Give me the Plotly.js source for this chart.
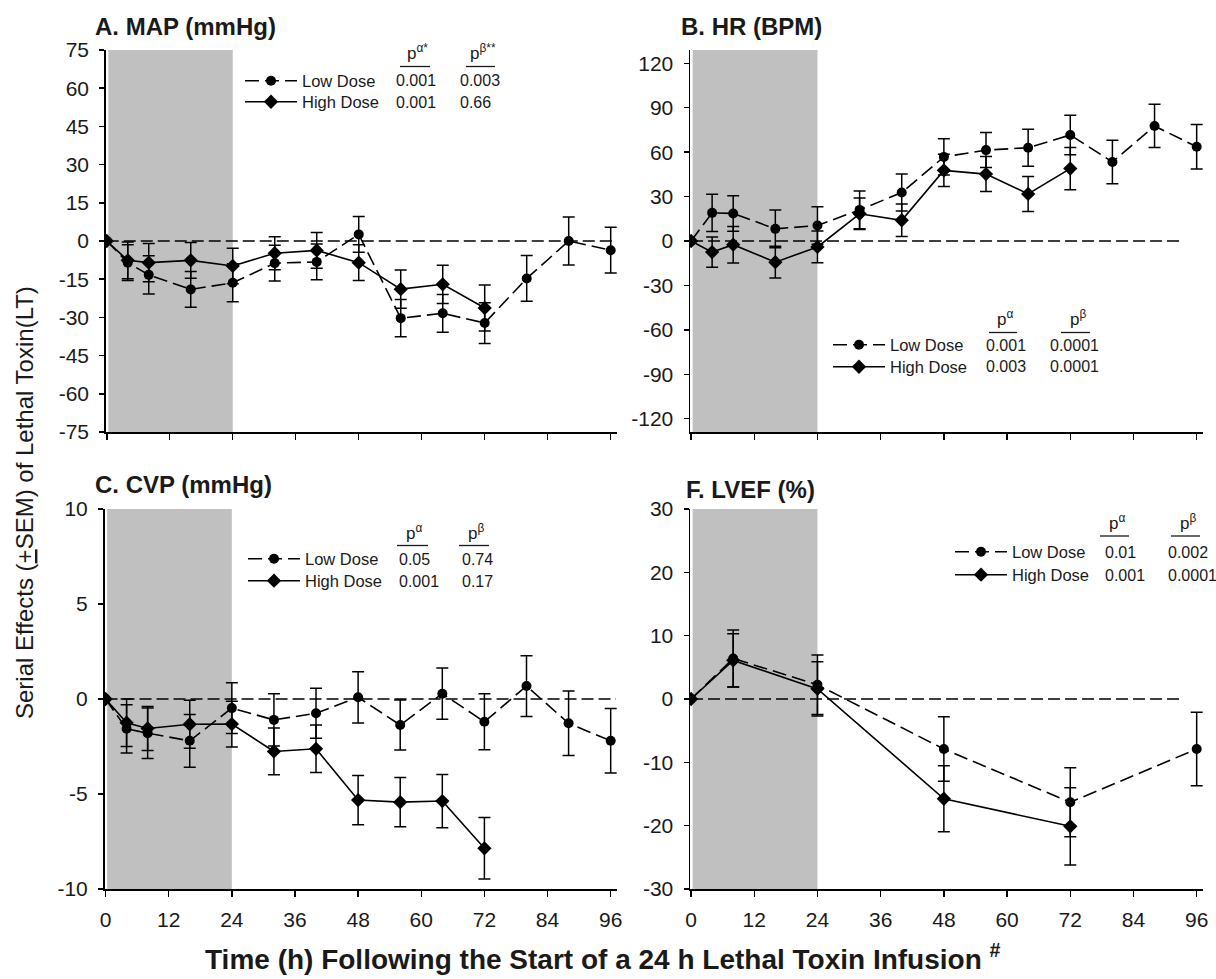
<!DOCTYPE html>
<html>
<head>
<meta charset="utf-8">
<script src="https://cdn.plot.ly/plotly-3.0.1.min.js"></script>
<style>
  html, body { margin: 0; padding: 0; background: #fff; }
  #chart { width: 1216px; height: 979px; }
</style>
</head>
<body>
<div id="chart"></div>
<script>
// ---------------- data ----------------
const timeLow  = [0, 4, 8, 16, 24, 32, 40, 48, 56, 64, 72, 80, 88, 96];
const timeHigh = [0, 4, 8, 16, 24, 32, 40, 48, 56, 64, 72];
const lvefTimeLow  = [0, 8, 24, 48, 72, 96];
const lvefTimeHigh = [0, 8, 24, 48, 72];
const xTicks = [0, 12, 24, 36, 48, 60, 72, 84, 96];

const mapLow     = [0, -8.5, -13.3, -19, -16.4, -8.7, -8.2, 2.6, -30.3, -28.4, -32.2, -14.7, 0, -3.6];
const mapLowErr  = [0, 7, 7.5, 7, 7.5, 7, 7, 7, 7.3, 7.4, 8, 9, 9.4, 9];
const mapHigh    = [0, -7.6, -8.5, -7.6, -9.8, -4.8, -3.7, -8.5, -18.9, -17, -26.3];
const mapHighErr = [0, 7.2, 7.5, 7, 7, 6.5, 7, 7, 7.5, 7.5, 9];

const hrLow      = [0, 19, 18.6, 8.2, 10.5, 21, 32.7, 56.8, 61.4, 63, 71.6, 53.4, 77.7, 63.6];
const hrLowErr   = [0, 12.5, 12, 12.7, 12.7, 12.7, 12.5, 12.3, 11.8, 12.5, 13.4, 14.7, 14.6, 15];
const hrHigh     = [0, -7.5, -2.5, -14.3, -4, 18.4, 14, 47.7, 45.2, 31.8, 48.9];
const hrHighErr  = [0, 10.2, 12.3, 10.7, 10.7, 10.7, 11, 10.9, 11.8, 11.8, 14.3];

const cvpLow     = [0, -1.57, -1.8, -2.2, -0.48, -1.1, -0.75, 0.09, -1.37, 0.28, -1.2, 0.68, -1.28, -2.2];
const cvpLowErr  = [0, 1.27, 1.33, 1.39, 1.33, 1.37, 1.32, 1.35, 1.32, 1.35, 1.47, 1.6, 1.7, 1.7];
const cvpHigh    = [0, -1.25, -1.55, -1.33, -1.32, -2.76, -2.62, -5.32, -5.43, -5.37, -7.86];
const cvpHighErr = [0, 1.25, 1.16, 1.26, 1.2, 1.23, 1.25, 1.3, 1.3, 1.4, 1.62];

const lvefLow     = [0, 6.4, 2.24, -7.9, -16.3, -7.9];
const lvefLowErr  = [0, 4.5, 4.7, 5.1, 5.45, 5.8];
const lvefHigh    = [0, 6.1, 1.6, -15.75, -20.1];
const lvefHighErr = [0, 4.2, 4.3, 5.2, 6.1];

const seriesNames = ['Low Dose', 'High Dose'];
const panelTitles = ['A. MAP (mmHg)', 'B. HR (BPM)', 'C. CVP (mmHg)', 'F. LVEF (%)'];
const pHeaders = [['p<sup>α*</sup>', 'p<sup>β**</sup>'], ['p<sup>α</sup>', 'p<sup>β</sup>'],
                  ['p<sup>α</sup>', 'p<sup>β</sup>'], ['p<sup>α</sup>', 'p<sup>β</sup>']];
const pValues = [
  [['0.001', '0.003'], ['0.001', '0.66']],
  [['0.001', '0.0001'], ['0.003', '0.0001']],
  [['0.05', '0.74'], ['0.001', '0.17']],
  [['0.01', '0.002'], ['0.001', '0.0001']]
];
const yTickSets = [
  [-75, -60, -45, -30, -15, 0, 15, 30, 45, 60, 75],
  [-120, -90, -60, -30, 0, 30, 60, 90, 120],
  [-10, -5, 0, 5, 10],
  [-30, -20, -10, 0, 10, 20, 30]
];
const xTitle = 'Time (h) Following the Start of a 24 h Lethal Toxin Infusion <sup>#</sup>';
const yTitle = 'Serial Effects (<u>+</u>SEM) of Lethal Toxin(LT)';

// ---------------- layout helpers ----------------
const W = 1216, H = 979;
const px = x => x / W;
const py = y => 1 - y / H;
const FONT = 'Liberation Sans, Arial, Helvetica, sans-serif';
const INK = '#1a1a1a';
const TICK_SIZE = 21;

// panel geometry in pixels: [left, right, top, bottom]
const geo = [
  [105.7, 617, 50, 432],
  [690, 1203, 50, 432],
  [104.5, 617, 509, 889],
  [690, 1203, 509, 889]
];
const yRanges = [[-75, 75], [-129, 129], [-10, 10], [-30, 30]];

const dataSets = [
  {tl: timeLow, yl: mapLow, el: mapLowErr, th: timeHigh, yh: mapHigh, eh: mapHighErr},
  {tl: timeLow, yl: hrLow, el: hrLowErr, th: timeHigh, yh: hrHigh, eh: hrHighErr},
  {tl: timeLow, yl: cvpLow, el: cvpLowErr, th: timeHigh, yh: cvpHigh, eh: cvpHighErr},
  {tl: lvefTimeLow, yl: lvefLow, el: lvefLowErr, th: lvefTimeHigh, yh: lvefHigh, eh: lvefHighErr}
];

// legend / p-value block positions (px)
const legendPos = [
  {lineX: 245, row1: 81, row2: 102, c1: 394, c2: 458, u1: [400, 430], u2: [466, 495], uy: 66.5},
  {lineX: 833, row1: 345, row2: 367, c1: 984, c2: 1048, u1: [989, 1017], u2: [1061, 1090], uy: 332.5},
  {lineX: 248, row1: 559, row2: 581, c1: 397, c2: 460, u1: [397, 428], u2: [459, 489], uy: 545.5},
  {lineX: 955, row1: 552, row2: 575, c1: 1103, c2: 1166, u1: [1100, 1129], u2: [1171, 1200], uy: 536}
];
const titlePos = [[93, 27], [679, 27], [93, 484], [684, 490]];
const zeroEnd = [97, 93.5, 97, 93.5];

const traces = [];
const layout = {
  width: W, height: H,
  margin: {l: 0, r: 0, t: 0, b: 0},
  paper_bgcolor: '#fff', plot_bgcolor: 'rgba(0,0,0,0)',
  font: {family: FONT, color: INK, size: TICK_SIZE},
  showlegend: true,
  shapes: [], annotations: []
};

let legendCount = 0;
function nextLegendId() {
  legendCount += 1;
  return legendCount === 1 ? 'legend' : 'legend' + legendCount;
}

for (let i = 0; i < 4; i++) {
  const n = i === 0 ? '' : String(i + 1);
  const xa = 'x' + n, ya = 'y' + n;
  const g = geo[i], d = dataSets[i];
  const bottomRow = i >= 2;

  layout['xaxis' + n] = {
    domain: [px(g[0]), px(g[1])], anchor: ya,
    range: [-0.2, 97.2], tickvals: xTicks, ticktext: xTicks.map(String),
    showticklabels: bottomRow,
    ticks: 'outside', ticklen: 6, tickwidth: 1.5, tickcolor: '#000',
    showline: true, linecolor: '#000', linewidth: 1.5,
    showgrid: false, zeroline: false, fixedrange: true,
    tickfont: {size: TICK_SIZE, color: INK}, ticklabelstandoff: 5
  };
  layout['yaxis' + n] = {
    domain: [py(g[3]), py(g[2])], anchor: xa,
    range: yRanges[i], tickvals: yTickSets[i], ticktext: yTickSets[i].map(String),
    ticks: 'outside', ticklen: 5, tickwidth: 1.5, tickcolor: '#000',
    showline: true, linecolor: '#000', linewidth: 1.5,
    showgrid: false, zeroline: false, fixedrange: true,
    tickfont: {size: TICK_SIZE, color: INK}, ticklabelstandoff: 6
  };

  // shaded infusion period (0–24 h)
  layout.shapes.push({type: 'rect', xref: xa, yref: ya + ' domain', x0: 0.3, x1: 24, y0: 0, y1: 1,
    fillcolor: '#c0c0c0', line: {width: 0}, layer: 'below'});
  // zero reference line
  layout.shapes.push({type: 'line', xref: xa, yref: ya, x0: 0, x1: zeroEnd[i], y0: 0, y1: 0,
    line: {color: '#000', width: 1.3, dash: '12px,5px'}, layer: 'above'});

  const L = legendPos[i];
  const lgLow = nextLegendId(), lgHigh = nextLegendId();

  traces.push({
    type: 'scatter', mode: 'lines+markers', name: seriesNames[0],
    x: d.tl, y: d.yl, xaxis: xa, yaxis: ya, legend: lgLow,
    line: {color: '#000', width: 1.6, dash: '14px,6px'},
    marker: {symbol: 'circle', size: 10, color: '#000'},
    error_y: {type: 'data', array: d.el, visible: true, color: '#000', thickness: 1.5, width: 6},
    hoverinfo: 'skip'
  });
  traces.push({
    type: 'scatter', mode: 'lines+markers', name: seriesNames[1],
    x: d.th, y: d.yh, xaxis: xa, yaxis: ya, legend: lgHigh,
    line: {color: '#000', width: 1.6},
    marker: {symbol: 'diamond', size: 11, color: '#000'},
    error_y: {type: 'data', array: d.eh, visible: true, color: '#000', thickness: 1.5, width: 6},
    hoverinfo: 'skip'
  });

  const rows = [L.row1, L.row2];
  [lgLow, lgHigh].forEach((id, r) => {
    layout[id] = {
      x: px(L.lineX - 5), xanchor: 'left',
      y: py(rows[r]), yanchor: 'middle',
      bgcolor: 'rgba(0,0,0,0)', borderwidth: 0,
      font: {size: 16.5, color: INK, family: FONT},
      itemwidth: 52, tracegroupgap: 0,
      itemclick: false, itemdoubleclick: false
    };
  });

  // p-value headers with underline
  const hdrCenters = [(L.u1[0] + L.u1[1]) / 2, (L.u2[0] + L.u2[1]) / 2];
  const ulines = [L.u1, L.u2];
  for (let c = 0; c < 2; c++) {
    layout.annotations.push({xref: 'paper', yref: 'paper', x: px(hdrCenters[c] + 2), y: py(L.uy - 1),
      xanchor: 'center', yanchor: 'bottom', showarrow: false, text: pHeaders[i][c],
      font: {size: 17, color: INK}});
    layout.shapes.push({type: 'line', xref: 'paper', yref: 'paper',
      x0: px(ulines[c][0]), x1: px(ulines[c][1]), y0: py(L.uy), y1: py(L.uy),
      line: {color: INK, width: 1.3}});
  }
  const cols = [L.c1, L.c2];
  for (let r = 0; r < 2; r++) {
    for (let c = 0; c < 2; c++) {
      layout.annotations.push({xref: 'paper', yref: 'paper', x: px(cols[c]), y: py(rows[r]),
        xanchor: 'left', yanchor: 'middle', showarrow: false, text: pValues[i][r][c],
        font: {size: 16, color: INK}});
    }
  }

  // panel title
  layout.annotations.push({xref: 'paper', yref: 'paper', x: px(titlePos[i][0]), y: py(titlePos[i][1]),
    xanchor: 'left', yanchor: 'middle', showarrow: false, text: '<b>' + panelTitles[i] + '</b>',
    font: {size: 24, color: INK}});
}

// shared axis titles
layout.annotations.push({xref: 'paper', yref: 'paper', x: px(603), y: py(957),
  xanchor: 'center', yanchor: 'middle', showarrow: false, text: '<b>' + xTitle + '</b>',
  font: {size: 28, color: INK}});
layout.annotations.push({xref: 'paper', yref: 'paper', x: px(24), y: py(503),
  xanchor: 'center', yanchor: 'middle', showarrow: false, textangle: -90, text: yTitle,
  font: {size: 24, color: INK}});

Plotly.newPlot('chart', traces, layout, {displayModeBar: false, staticPlot: true});
</script>
</body>
</html>
